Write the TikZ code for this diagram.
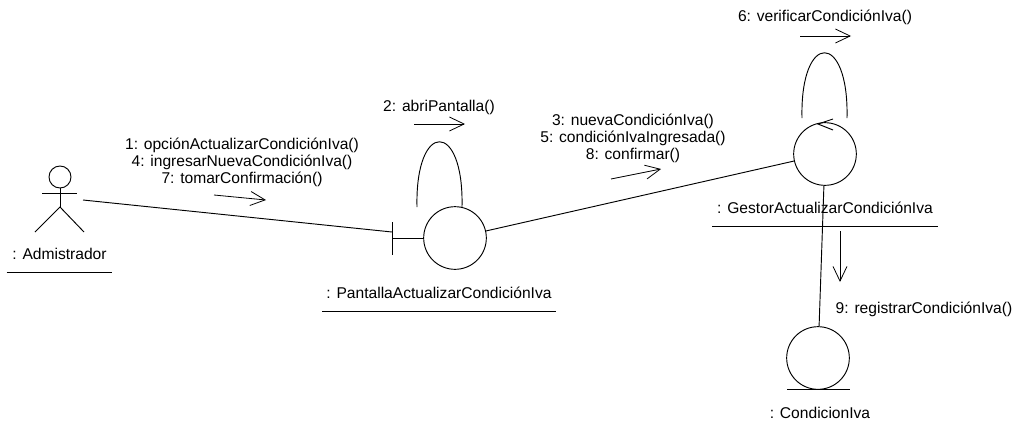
\documentclass[tikz,border=0pt]{standalone}
\usepackage{fontspec}
\setmainfont{Liberation Sans}
\usetikzlibrary{arrows.meta,positioning}
\tikzset{
	object/.style={
		circle,
		draw,
		line width=0.7pt,
		minimum size=47pt,
		inner sep=0pt,
	},
	actorhead/.style={
		circle,
		draw,
		line width=0.7pt,
		minimum size=16.5pt,
		inner sep=0pt,
	},
	caption/.style={
		inner sep=0pt,
		font=\fontsize{11.7}{12.75}\selectfont,
		align=center,
	},
	underlined/.style={
		caption,
		minimum height=27pt,
	},
	wire/.style={
		line width=0.7pt,
	},
	message/.style={
		line width=0.6pt,
		-{Straight Barb[length=11pt,width=10.5pt,line width=0.6pt]},
	},
}

\begin{document}
\begin{tikzpicture}[x=0.75pt,y=-0.75pt]
	\useasboundingbox (0,0) rectangle (1018,429);

	\node [actorhead] (adminhead) at (60,177) {};
	\coordinate (adminhip) at (60,207);
	\coordinate (adminarml) at (42,193);
	\coordinate (adminarmr) at (77,193);
	\coordinate (adminlegl) at (35,232);
	\coordinate (adminlegr) at (84,232);
	\node [
	  underlined,
	  minimum width=79pt,
	] (adminname) at (59.5,254) {: Admistrador};

	\node [object] (pantalla) at (455,238) {};
	\coordinate (bartop) at (392,222);
	\coordinate (barmid) at (392,238);
	\coordinate (barbot) at (392,255);
	\node [
	  underlined,
	  minimum width=175pt,
	] (pantallaname) at (439,293) {: PantallaActualizarCondiciónIva};

	\node [object] (gestor) at (825,154) {};
	\node [
	  underlined,
	  minimum width=169pt,
	] (gestorname) at (825,208) {: GestorActualizarCondiciónIva};

	\node [object] (condicion) at (818,358) {};
	\coordinate (condbasel) at (787,389);
	\coordinate (condbaser) at (850,389);
	\node [caption] (condicionname) at (820,413) {: CondicionIva};

	\node [caption] (msgadmin) at (242,162) {1: opciónActualizarCondiciónIva()\\4: ingresarNuevaCondiciónIva()\\7: tomarConfirmación()};
	\node [caption] (msgpantalla) at (439,107) {2: abriPantalla()};
	\node [caption] (msggestor) at (633,138) {3: nuevaCondiciónIva()\\5: condiciónIvaIngresada()\\8: confirmar()};
	\node [caption] (msgverificar) at (825,17) {6: verificarCondiciónIva()};
	\node [caption] (msgregistrar) at (924,309) {9: registrarCondiciónIva()};

	\coordinate (adminlink) at (83,200);
	\coordinate (barlink) at (392,232);
	\coordinate (loopa) at (417,207);
	\coordinate (loopb) at (462,207);
	\coordinate (loopc) at (802,118);
	\coordinate (loopd) at (847,118);
	\coordinate (looptip) at (818,124);
	\coordinate (loopwinga) at (833,119);
	\coordinate (loopwingb) at (833,130);

	\coordinate (arra) at (214,195);
	\coordinate (arrb) at (266,200);
	\coordinate (arrc) at (414,124);
	\coordinate (arrd) at (465,124);
	\coordinate (arre) at (611,179);
	\coordinate (arrf) at (661,169);
	\coordinate (arrg) at (800,36);
	\coordinate (arrh) at (851,36);
	\coordinate (arri) at (840,231);
	\coordinate (arrj) at (840,282);

	\draw[wire] (adminhead) -- (adminhip);
	\draw[wire] (adminarml) -- (adminarmr);
	\draw[wire] (adminlegl) -- (adminhip) -- (adminlegr);
	\draw[wire] (adminname.south west) -- (adminname.south east);

	\draw[wire] (bartop) -- (barbot);
	\draw[wire] (barmid) -- (pantalla);
	\draw[wire] (pantallaname.south west) -- (pantallaname.south east);
	\draw[wire] (gestorname.south west) -- (gestorname.south east);
	\draw[wire] (condbasel) -- (condbaser);

	\draw[wire] (adminlink) -- (barlink);
	\draw[wire] (pantalla) -- (gestor);
	\draw[wire] (gestor) -- (condicion);

	\draw[wire] (loopa) .. controls (415,120) and (464,120) .. (loopb);
	\draw[wire] (loopc) .. controls (800,31) and (849,31) .. (loopd);
	\draw[wire] (loopwinga) -- (looptip) -- (loopwingb);

	\draw[message] (arra) -- (arrb);
	\draw[message] (arrc) -- (arrd);
	\draw[message] (arre) -- (arrf);
	\draw[message] (arrg) -- (arrh);
	\draw[message] (arri) -- (arrj);
\end{tikzpicture}
\end{document}
